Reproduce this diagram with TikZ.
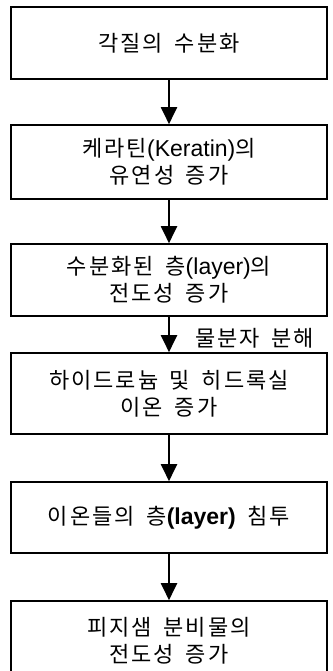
\documentclass[tikz,border=0pt]{standalone}
\usepackage{fontspec}
\setmainfont{Noto Sans CJK KR}[LetterSpace=9,WordSpace=1.7]
\newfontfamily\latf{Liberation Sans}
\newcommand{\lat}{\latf\fontsize{23}{27}\selectfont}
\usetikzlibrary{arrows.meta}
\tikzset{
  stepbox/.style={draw=black, line width=1.6pt, rectangle, minimum width=316pt, inner sep=0pt, font=\fontsize{22}{27}\selectfont, align=center},
  flow/.style={line width=2pt, -{Triangle[length=17pt,width=16pt]}},
  lbl/.style={font=\fontsize{22}{27}\selectfont, anchor=west, inner sep=0pt}
}
\begin{document}
\begin{tikzpicture}[x=1pt,y=-1pt]
\useasboundingbox (0,0) rectangle (332,671);
\fill[white] (0,0) rectangle (332,671);
\clip (0,0) rectangle (332,671);
\node[stepbox, minimum height=72pt] (b1) at (169,43) {각질의 수분화};
\node[stepbox, minimum height=74pt] (b2) at (169,162) {케라틴{\lat(Keratin)}의\\유연성 증가};
\node[stepbox, minimum height=72pt] (b3) at (169,280) {수분화된 층{\lat(layer)}의\\전도성 증가};
\node[stepbox, minimum height=81pt] (b4) at (169,393.5) {하이드로늄 및 히드록실\\이온 증가};
\node[stepbox, minimum height=71pt] (b5) at (169,517.5) {이온들의 층{\lat\bfseries(layer)} 침투};
\node[stepbox, minimum height=80pt] (b6) at (169,641) {피지샘 분비물의\\전도성 증가};
\draw[flow] (b1.south) -- (b2.north);
\draw[flow] (b2.south) -- (b3.north);
\draw[flow] (b3.south) -- (b4.north);
\draw[flow] (b4.south) -- (b5.north);
\draw[flow] (b5.south) -- (b6.north);
\node[lbl] (w) at (195,338) {물분자 분해};
\end{tikzpicture}
\end{document}
